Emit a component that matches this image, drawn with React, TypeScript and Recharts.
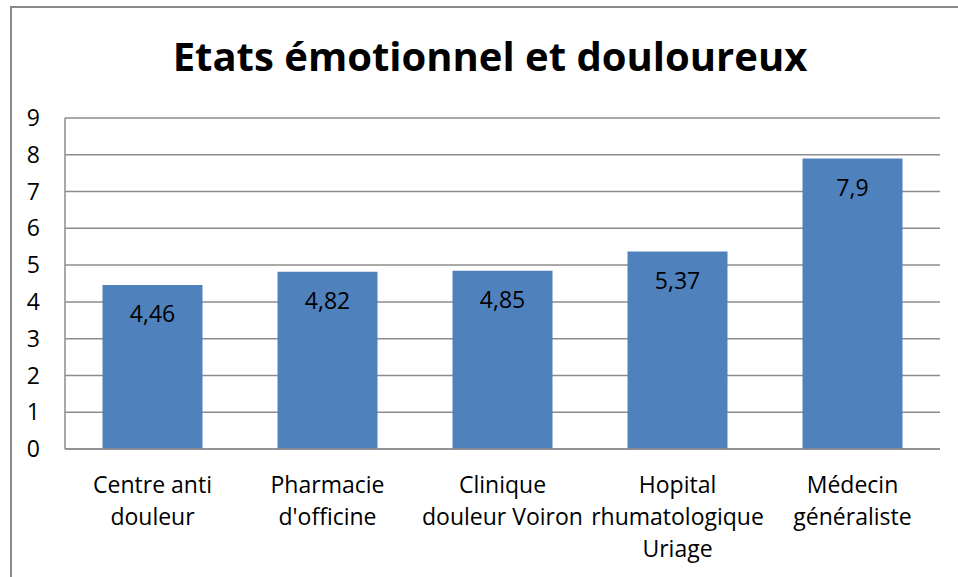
import React from "react";
import { BarChart, Bar, XAxis, YAxis, CartesianGrid, LabelList } from "recharts";

const title = "Etats émotionnel et douloureux";
const categories = [
  "Centre anti\ndouleur",
  "Pharmacie\nd'officine",
  "Clinique\ndouleur Voiron",
  "Hopital\nrhumatologique\nUriage",
  "Médecin\ngénéraliste",
];
const values = [4.46, 4.82, 4.85, 5.37, 7.9];
const yTicks = [0, 1, 2, 3, 4, 5, 6, 7, 8, 9];

const data = categories.map((c, i) => ({ name: c, value: values[i] }));

const FONT = "'Open Sans', sans-serif";
const GRID = "#8c8c8c";

const XTick = (props: any) => {
  const { x, y, payload } = props;
  const lines = String(payload.value).split("\n");
  return (
    <text x={x} y={y} textAnchor="middle" fontFamily={FONT} fontSize={23} fill="#000">
      {lines.map((l: string, i: number) => (
        <tspan key={i} x={x} y={y + 36 + i * 32}>
          {l}
        </tspan>
      ))}
    </text>
  );
};

export default function App() {
  return (
    <div style={{ position: "absolute", left: 0, top: 0, width: 958, height: 577, overflow: "hidden", background: "#fff" }}>
      <div
        style={{
          position: "absolute",
          left: 10,
          top: 6,
          width: 980,
          height: 600,
          border: "2px solid #8a8a8a",
          boxSizing: "border-box",
        }}
      />
      <div style={{ position: "absolute", left: 0, top: 0 }}>
        <BarChart
          width={958}
          height={577}
          data={data}
          margin={{ top: 118, right: 18, bottom: 0, left: 0 }}
          barCategoryGap="21.43%"
        >
          <CartesianGrid vertical={false} stroke={GRID} strokeWidth={1.5} />
          <XAxis
            dataKey="name"
            height={128}
            axisLine={{ stroke: GRID, strokeWidth: 1.5 }}
            tickLine={false}
            tick={<XTick />}
            interval={0}
          />
          <YAxis
            width={65}
            domain={[0, 9]}
            ticks={yTicks}
            interval={0}
            axisLine={{ stroke: GRID, strokeWidth: 1.5 }}
            tickLine={false}
            tickMargin={19}
            tick={{ fontFamily: FONT, fontSize: 23, fill: "#000" }}
          />
          <Bar dataKey="value" fill="#4F81BD" isAnimationActive={false}>
            <LabelList
              dataKey="value"
              position="insideTop"
              offset={21}
              fill="#000"
              fontFamily={FONT}
              fontSize={23}
              formatter={(v: any) => String(v).replace(".", ",")}
            />
          </Bar>
        </BarChart>
      </div>
      <svg width={958} height={100} style={{ position: "absolute", left: 0, top: 0 }}>
        <text x={490} y={71} textAnchor="middle" fontFamily={FONT} fontWeight={700} fontSize={40} fill="#000">
          {title}
        </text>
      </svg>
    </div>
  );
}
